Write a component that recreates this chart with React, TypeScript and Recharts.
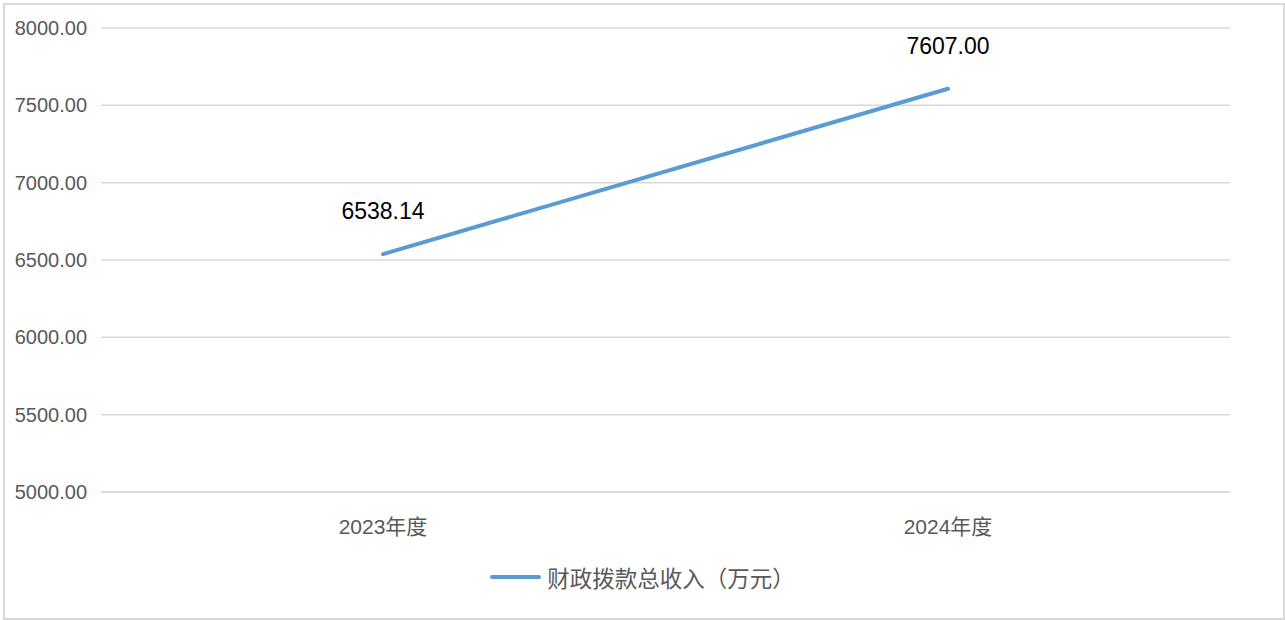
import React from 'react'
import { CartesianGrid, Legend, LabelList, Line, LineChart, XAxis, YAxis } from 'recharts'

const FONT = '"Liberation Sans", "Noto Sans CJK SC", sans-serif'
const SERIES_NAME = '财政拨款总收入（万元）'

const years = ['2023年度', '2024年度']
const income = [6538.14, 7607.0]
const yTicks = [5000, 5500, 6000, 6500, 7000, 7500, 8000]

const data = years.map((year, i) => ({ year, income: income[i] }))

const LegendContent = () => (
  <div style={{ display: 'flex', alignItems: 'center', justifyContent: 'center', fontFamily: FONT }}>
    <span style={{ display: 'inline-block', width: 51, height: 4, borderRadius: 2, background: '#5b9bd5', marginRight: 6 }} />
    <span style={{ fontSize: 22.5, color: '#595959' }}>{SERIES_NAME}</span>
  </div>
)

export default function App() {
  return (
    <div
      style={{
        position: 'absolute',
        left: 0,
        top: 0,
        width: 1285,
        height: 620,
        background: '#fff',
      }}
    >
      <div
        style={{
          position: 'absolute',
          left: 3,
          top: 3,
          width: 1278,
          height: 613,
          border: '2px solid #d9d9d9',
          pointerEvents: 'none',
        }}
      />
      <LineChart width={1285} height={620} data={data} margin={{ top: 28, right: 55, bottom: 68, left: 0 }}>
        <CartesianGrid vertical={false} stroke="#d9d9d9" strokeWidth={1.5} />
        <XAxis
          dataKey="year"
          height={60}
          padding={{ left: 282, right: 282 }}
          axisLine={{ stroke: '#d9d9d9', strokeWidth: 1.5 }}
          tickLine={false}
          tickMargin={21}
          tick={{ fill: '#595959', fontSize: 21, fontFamily: FONT }}
        />
        <YAxis
          width={101}
          domain={[5000, 8000]}
          ticks={yTicks}
          axisLine={false}
          tickLine={false}
          tickMargin={8}
          tickFormatter={(v) => v.toFixed(2)}
          tick={{ fill: '#595959', fontSize: 20, fontFamily: FONT }}
        />
        <Legend
          verticalAlign="middle"
          layout="horizontal"
          content={<LegendContent />}
          wrapperStyle={{ top: 561, left: 0, width: 1285 }}
        />
        <Line
          dataKey="income"
          name={SERIES_NAME}
          stroke="#5b9bd5"
          strokeWidth={4}
          strokeLinecap="round"
          dot={false}
          activeDot={false}
          isAnimationActive={false}
        >
          <LabelList
            dataKey="income"
            position="top"
            offset={35}
            formatter={(v) => Number(v).toFixed(2)}
            style={{ fill: '#000', fontSize: 23, fontFamily: FONT }}
          />
        </Line>
      </LineChart>
    </div>
  )
}
